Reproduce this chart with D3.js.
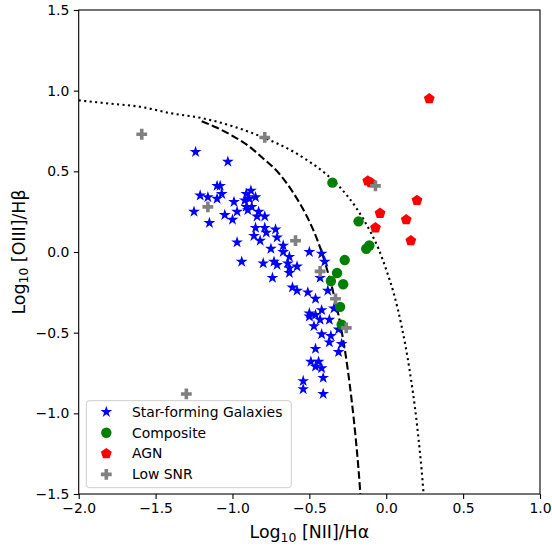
<!DOCTYPE html>
<html>
<head>
<meta charset="utf-8">
<script src="https://cdn.jsdelivr.net/npm/d3@7"></script>
<style>
	body { margin: 0; background: #fff; }
	svg { display: block; font-family: "DejaVu Sans", sans-serif; }
</style>
</head>
<body>
<div class="bpt-plot"></div>
<script>
// points: [log NII/Ha, log OIII/Hb]
const starForming = [
	[-1.24, 0.62], [-1.03, 0.56], [-1.10, 0.41], [-1.08, 0.41], [-1.21, 0.35],
	[-1.16, 0.34], [-1.10, 0.33], [-1.07, 0.36], [-0.99, 0.31], [-1.25, 0.25],
	[-1.05, 0.23], [-1.15, 0.18], [-1.00, 0.20], [-0.97, 0.25], [-0.97, 0.06],
	[-0.91, 0.36], [-0.88, 0.38], [-0.92, 0.32], [-0.89, 0.33], [-0.85, 0.34],
	[-0.91, 0.28], [-0.875, 0.28], [-0.90, 0.26], [-0.83, 0.25], [-0.84, 0.22],
	[-0.79, 0.22], [-0.85, 0.15], [-0.79, 0.15], [-0.86, 0.10], [-0.82, 0.07],
	[-0.78, 0.12], [-0.72, 0.14], [-0.71, 0.09], [-0.94, -0.06], [-0.75, 0.02],
	[-0.67, 0.04], [-0.67, 0.00], [-0.63, -0.03], [-0.80, -0.07], [-0.73, -0.06],
	[-0.71, -0.08], [-0.64, -0.07], [-0.63, -0.10], [-0.58, -0.09], [-0.63, -0.13],
	[-0.74, -0.16], [-0.50, 0.00], [-0.42, -0.01], [-0.40, -0.06], [-0.43, -0.16],
	[-0.61, -0.22], [-0.58, -0.24], [-0.51, -0.25], [-0.46, -0.29], [-0.38, -0.24],
	[-0.34, -0.35], [-0.50, -0.38], [-0.46, -0.39], [-0.42, -0.36], [-0.50, -0.40],
	[-0.43, -0.42], [-0.37, -0.42], [-0.47, -0.46], [-0.42, -0.51], [-0.36, -0.52],
	[-0.37, -0.56], [-0.31, -0.48], [-0.29, -0.57], [-0.31, -0.62], [-0.46, -0.60],
	[-0.49, -0.68], [-0.44, -0.68], [-0.46, -0.71], [-0.42, -0.72], [-0.41, -0.78],
	[-0.54, -0.80], [-0.54, -0.85], [-0.41, -0.88]
];
const composite = [
	[-0.35, 0.43], [-0.18, 0.19], [-0.27, -0.05], [-0.32, -0.13], [-0.36, -0.18],
	[-0.28, -0.20], [-0.30, -0.34], [-0.29, -0.45], [-0.13, 0.02], [-0.11, 0.04]
];
const agn = [
	[0.28, 0.95], [-0.12, 0.44], [-0.10, 0.43], [0.20, 0.32], [-0.04, 0.24],
	[0.13, 0.20], [-0.07, 0.15], [0.16, 0.07]
];
const lowSnr = [
	[-1.59, 0.73], [-1.16, 0.28], [-0.79, 0.71], [-0.59, 0.07], [-0.43, -0.12],
	[-0.33, -0.29], [-0.26, -0.47], [-0.07, 0.41], [-1.30, -0.88]
];

// demarcation curves
const kauffmannLine = [
	[-1.20, 0.81], [-1.10, 0.77], [-1.00, 0.72], [-0.90, 0.66], [-0.80, 0.58],
	[-0.70, 0.49], [-0.60, 0.36], [-0.50, 0.19], [-0.45, 0.08], [-0.40, -0.06],
	[-0.35, -0.23], [-0.30, -0.44], [-0.25, -0.73], [-0.20, -1.14], [-0.18, -1.35],
	[-0.168, -1.50]
];
const kewleyLine = [
	[-2.00, 0.94], [-1.80, 0.92], [-1.60, 0.90], [-1.40, 0.86], [-1.20, 0.83],
	[-1.00, 0.78], [-0.80, 0.71], [-0.60, 0.62], [-0.50, 0.56], [-0.40, 0.49],
	[-0.30, 0.40], [-0.20, 0.28], [-0.10, 0.12], [-0.05, 0.02], [0.00, -0.11],
	[0.05, -0.26], [0.10, -0.46], [0.15, -0.72], [0.20, -1.07], [0.22, -1.25],
	[0.23, -1.35], [0.243, -1.50]
];

const xTicks = [-2.0, -1.5, -1.0, -0.5, 0.0, 0.5, 1.0];
const yTicks = [-1.5, -1.0, -0.5, 0.0, 0.5, 1.0, 1.5];

const classes = [
	{ label: "Star-forming Galaxies", data: starForming, shape: "star", color: "blue" },
	{ label: "Composite", data: composite, shape: "circle", color: "green" },
	{ label: "AGN", data: agn, shape: "pentagon", color: "red" },
	{ label: "Low SNR", data: lowSnr, shape: "plus", color: "grey" },
];

function markerPath(shape, r) {
	if (shape === "star") {
		return d3.symbol(d3.symbolStar, (r * r) / 0.8908)();
	}
	if (shape === "circle") {
		return d3.symbol(d3.symbolCircle, Math.PI * r * r)();
	}
	if (shape === "pentagon") {
		const pts = d3.range(5).map((i) => {
			const a = -Math.PI / 2 + (i * 2 * Math.PI) / 5;
			return [r * Math.cos(a), r * Math.sin(a)];
		});
		return "M" + pts.join("L") + "Z";
	}
	// filled plus, arms a third of the width
	const a = r / 3;
	const pts = [
		[-a, -r], [a, -r], [a, -a], [r, -a], [r, a], [a, a],
		[a, r], [-a, r], [-a, a], [-r, a], [-r, -a], [-a, -a]
	];
	return "M" + pts.join("L") + "Z";
}

const markerSize = { star: 6.2, circle: 5.2, pentagon: 5.7, plus: 5.4 };

const W = 552, H = 547;
const margin = { top: 10, right: 12, bottom: 53, left: 78.7 };
const width = W - margin.left - margin.right;
const height = H - margin.top - margin.bottom;

const xScale = d3.scaleLinear().domain([-2, 1]).range([0, width]);
const yScale = d3.scaleLinear().domain([-1.5, 1.5]).range([height, 0]);

const svg = d3
	.select(".bpt-plot")
	.append("svg")
	.attr("width", W)
	.attr("height", H);

const g = svg.append("g").attr("transform", `translate(${margin.left},${margin.top})`);

g.append("clipPath")
	.attr("id", "plot-clip")
	.append("rect")
	.attr("width", width)
	.attr("height", height);

const fmt = d3.format(".1f");

const xAxis = g
	.append("g")
	.attr("transform", `translate(0,${height})`)
	.call(d3.axisBottom(xScale).tickValues(xTicks).tickFormat(fmt).tickSize(4.9).tickPadding(4.5).tickSizeOuter(0));

const yAxis = g
	.append("g")
	.call(d3.axisLeft(yScale).tickValues(yTicks).tickFormat(fmt).tickSize(4.9).tickPadding(4.5).tickSizeOuter(0));

[xAxis, yAxis].forEach((ax) => {
	ax.select(".domain").remove();
	ax.selectAll("line").attr("stroke", "#000").attr("stroke-width", 1.1);
	ax.selectAll("text").attr("font-size", "13.9px").attr("fill", "#000").attr("font-family", "DejaVu Sans");
});

// curves
const line = d3
	.line()
	.x((d) => xScale(d[0]))
	.y((d) => yScale(d[1]))
	.curve(d3.curveMonotoneX);

const curves = g.append("g").attr("clip-path", "url(#plot-clip)");

curves.append("path")
	.datum(kauffmannLine)
	.attr("d", line)
	.attr("fill", "none")
	.attr("stroke", "#000")
	.attr("stroke-width", 2.1)
	.attr("stroke-dasharray", "7.7,3.3");

curves.append("path")
	.datum(kewleyLine)
	.attr("d", line)
	.attr("fill", "none")
	.attr("stroke", "#000")
	.attr("stroke-width", 2.1)
	.attr("stroke-dasharray", "2.1,3.4");

// points
const pts = g.append("g").attr("clip-path", "url(#plot-clip)");
classes.forEach((c) => {
	pts.append("g")
		.selectAll("path")
		.data(c.data)
		.join("path")
		.attr("transform", (d) => `translate(${xScale(d[0])},${yScale(d[1])})`)
		.attr("d", markerPath(c.shape, markerSize[c.shape]))
		.attr("fill", c.color);
});

// frame
g.append("rect")
	.attr("width", width)
	.attr("height", height)
	.attr("fill", "none")
	.attr("stroke", "#000")
	.attr("stroke-width", 1.1);

// legend
const legend = g.append("g").attr("transform", "translate(7.6,390.7)");
legend.append("rect")
	.attr("width", 205)
	.attr("height", 87)
	.attr("rx", 3)
	.attr("fill", "#fff")
	.attr("fill-opacity", 0.8)
	.attr("stroke", "#cccccc")
	.attr("stroke-width", 1);

const rows = legend
	.selectAll("g.row")
	.data(classes)
	.join("g")
	.attr("class", "row")
	.attr("transform", (d, i) => `translate(0,${11.3 + i * 20.8})`);

rows.append("path")
	.attr("transform", "translate(20,0)")
	.attr("d", (d) => markerPath(d.shape, markerSize[d.shape]))
	.attr("fill", (d) => d.color);

rows.append("text")
	.attr("x", 45.7)
	.attr("dy", "0.35em")
	.attr("font-size", "13.9px")
	.text((d) => d.label);

// axis labels
const xLabel = svg.append("text")
	.attr("x", margin.left + width / 2)
	.attr("y", 538.3)
	.attr("text-anchor", "middle")
	.attr("font-size", "17.4px");
xLabel.append("tspan").text("Log");
xLabel.append("tspan").attr("font-size", "12.4px").attr("dy", 3.2).text("10");
xLabel.append("tspan").attr("dy", -3.2).text(" [NII]/H\u03b1");

const yLabel = svg.append("text")
	.attr("transform", `translate(25,${margin.top + height / 2}) rotate(-90)`)
	.attr("text-anchor", "middle")
	.attr("font-size", "17.4px");
yLabel.append("tspan").text("Log");
yLabel.append("tspan").attr("font-size", "12.4px").attr("dy", 3.2).text("10");
yLabel.append("tspan").attr("dy", -3.2).text(" [OIII]/H\u03b2");
</script>
</body>
</html>
